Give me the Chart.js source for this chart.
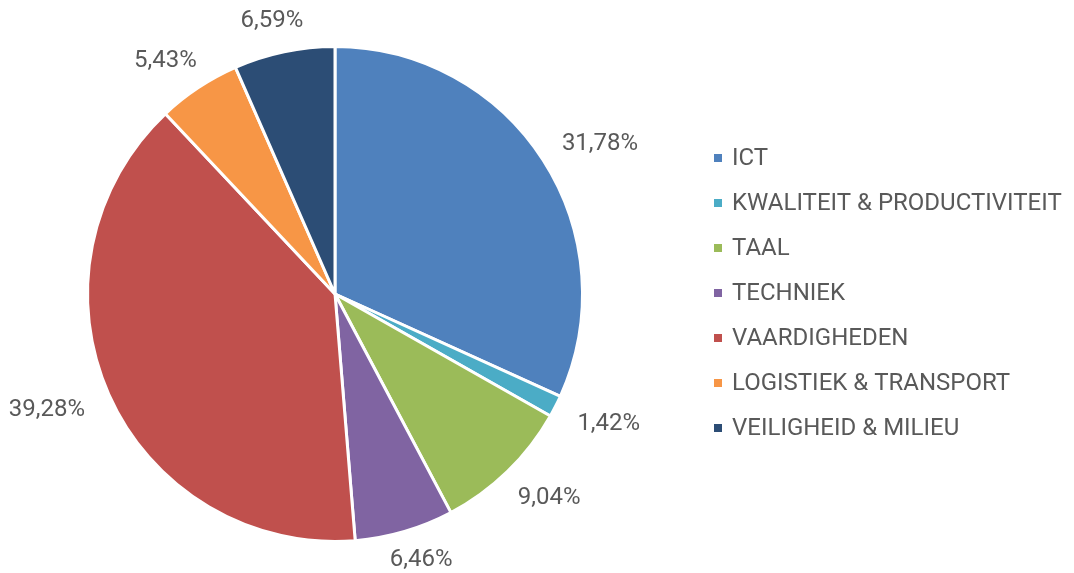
<!DOCTYPE html>
<html>
<head>
<meta charset="utf-8">
<script src="https://cdn.jsdelivr.net/npm/chart.js@4"></script>
<style>
  html, body { margin: 0; padding: 0; background: #fff; }
  #wrap { width: 1074px; height: 573px; }
</style>
</head>
<body>
<div id="wrap"><canvas id="chart" width="1074" height="573"></canvas></div>
<script>
const categories = ['ICT', 'KWALITEIT & PRODUCTIVITEIT', 'TAAL', 'TECHNIEK', 'VAARDIGHEDEN', 'LOGISTIEK & TRANSPORT', 'VEILIGHEID & MILIEU'];
const shares = [31.78, 1.42, 9.04, 6.46, 39.28, 5.43, 6.59];
const colors = ['#4F81BD', '#4BACC6', '#9BBB59', '#8064A2', '#C0504D', '#F79646', '#2C4D75'];

const FONT = '24px Roboto';
const TEXT = '#595959';

function fmt(v) {
  return v.toFixed(2).replace('.', ',') + '%';
}

// percentage labels just outside each slice
const outsideLabels = {
  id: 'outsideLabels',
  afterDatasetsDraw(chart) {
    const ctx = chart.ctx;
    const meta = chart.getDatasetMeta(0);
    ctx.save();
    ctx.font = FONT;
    ctx.fillStyle = TEXT;
    ctx.textAlign = 'center';
    ctx.textBaseline = 'middle';
    meta.data.forEach((arc, i) => {
      const mid = (arc.startAngle + arc.endAngle) / 2;
      const r = arc.outerRadius + 22;
      const cx = Math.cos(mid), cy = Math.sin(mid);
      const txt = fmt(shares[i]);
      const w = ctx.measureText(txt).width;
      const x = arc.x + r * cx + (w * 0.6) * cx;
      let y = arc.y + r * cy + 12 * cy + 2;
      y = Math.min(Math.max(y, 20), chart.height - 13);
      ctx.fillText(txt, x, y);
    });
    ctx.restore();
  }
};

// legend on the right
const sideLegend = {
  id: 'sideLegend',
  afterDraw(chart) {
    const ctx = chart.ctx;
    ctx.save();
    ctx.font = FONT;
    ctx.textBaseline = 'middle';
    ctx.textAlign = 'left';
    categories.forEach((name, i) => {
      const y = 158 + i * 45;
      ctx.fillStyle = colors[i];
      ctx.fillRect(714, y - 4, 8, 8);
      ctx.fillStyle = TEXT;
      ctx.fillText(name, 732, y + 1);
    });
    ctx.restore();
  }
};

new Chart(document.getElementById('chart'), {
  type: 'pie',
  data: {
    labels: categories,
    datasets: [{
      data: shares,
      backgroundColor: colors,
      borderColor: '#ffffff',
      borderWidth: 3
    }]
  },
  options: {
    responsive: false,
    animation: false,
    layout: { padding: { left: 86, top: 45, right: 490, bottom: 30 } },
    plugins: {
      legend: { display: false },
      tooltip: { enabled: false }
    }
  },
  plugins: [outsideLabels, sideLegend]
});
</script>
</body>
</html>
